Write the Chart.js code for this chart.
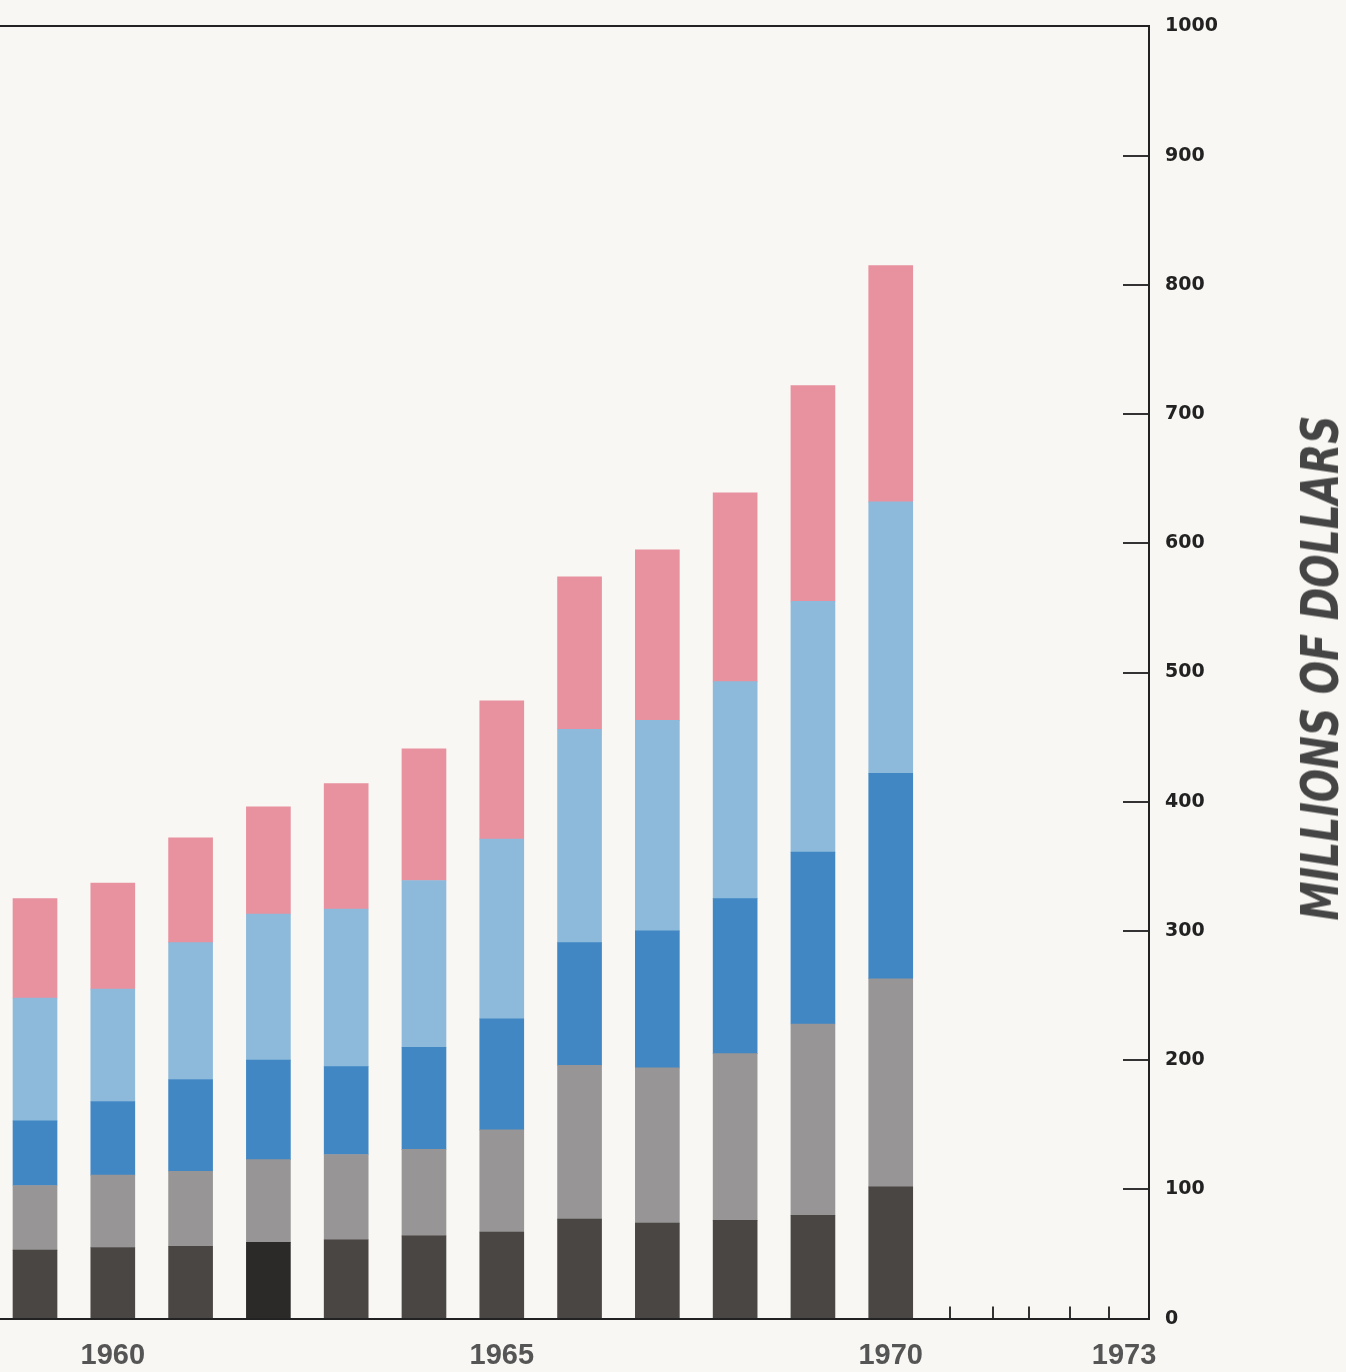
<!DOCTYPE html>
<html>
<head>
<meta charset="utf-8">
<script src="https://cdn.jsdelivr.net/npm/chart.js@4"></script>
<style>
  body { margin: 0; background: #f8f7f3; overflow: hidden; }
  #wrap { position: relative; width: 1346px; height: 1372px; overflow: hidden; }
  #chart { position: absolute; left: 0; top: -27px; }
  #yTitle {
    position: absolute; left: 1320px; top: 668px;
    font-family: "DejaVu Sans Condensed", "DejaVu Sans", sans-serif;
    font-stretch: condensed; font-weight: bold; font-style: italic;
    font-size: 52px; color: #454545; white-space: nowrap;
    transform-origin: center center;
  }
</style>
</head>
<body>
<div id="wrap">
  <canvas id="chart" width="1346" height="1399"></canvas>
  <div id="yTitle">MILLIONS OF DOLLARS</div>
</div>
<script>
// 年份與各段數值（百萬美元，由圖估讀）
const years = [1959, 1960, 1961, 1962, 1963, 1964, 1965, 1966, 1967, 1968, 1969, 1970];
const blackVals = [53, 55, 56, 59, 61, 64, 67, 77, 74, 76, 80, 102];
const grayVals = [50, 56, 58, 64, 66, 67, 79, 119, 120, 129, 148, 161];
const darkBlueVals = [50, 57, 71, 77, 68, 79, 86, 95, 106, 120, 133, 159];
const lightBlueVals = [95, 87, 106, 113, 122, 129, 139, 165, 163, 168, 194, 210];
const pinkVals = [77, 82, 81, 83, 97, 102, 107, 118, 132, 146, 167, 183];

// 軸刻度
const labelYears = [1960, 1965, 1970, 1973];
const minorTicks = [1970.76, 1971.31, 1971.78, 1972.3, 1972.8];
const yTicks = [0, 100, 200, 300, 400, 500, 600, 700, 800, 900, 1000];

function toPoints(vals) {
  return vals.map((v, i) => ({ x: years[i], y: v }));
}

// 1962 年底段印得較深
const blackColors = years.map(y => (y === 1962 ? "#2b2a29" : "#4a4644"));

const ctx = document.getElementById("chart").getContext("2d");
const chart = new Chart(ctx, {
  type: "bar",
  data: {
    datasets: [
      { data: toPoints(blackVals), backgroundColor: blackColors },
      { data: toPoints(grayVals), backgroundColor: "#979595" },
      { data: toPoints(darkBlueVals), backgroundColor: "#4087c4" },
      { data: toPoints(lightBlueVals), backgroundColor: "#8dbadb" },
      { data: toPoints(pinkVals), backgroundColor: "#e8929f" },
    ],
  },
  options: {
    responsive: false,
    animation: false,
    layout: { padding: 0 },
    barThickness: 44,
    plugins: { legend: { display: false }, tooltip: { enabled: false } },
    scales: {
      x: {
        type: "linear",
        position: "bottom",
        stacked: true,
        offset: false,
        min: 1958.55,
        max: 1973.32,
        afterBuildTicks: (scale) => {
          scale.ticks = labelYears.concat(minorTicks).map(v => ({ value: v }));
        },
        afterFit: (scale) => { scale.height = 52; },
        ticks: {
          autoSkip: false,
          maxRotation: 0,
          padding: 32,
          color: "#555",
          font: { family: "Liberation Sans", weight: "bold", size: 29 },
          callback: (v) => (labelYears.includes(v) ? String(v) : ""),
        },
        grid: {
          offset: false,
          drawOnChartArea: false,
          tickLength: -12,
          lineWidth: 2,
          color: (c) => (c.tick && minorTicks.includes(c.tick.value) ? "#333" : "rgba(0,0,0,0)"),
        },
        border: { display: true, color: "#222", width: 2 },
      },
      xTop: {
        type: "linear",
        position: "top",
        offset: false,
        min: 1958.55,
        max: 1973.32,
        afterFit: (scale) => { scale.height = 0; },
        ticks: { display: false },
        grid: { display: false },
        border: { display: true, color: "#222", width: 2 },
      },
      y: {
        position: "right",
        stacked: true,
        min: 0,
        max: 1000,
        afterBuildTicks: (scale) => {
          scale.ticks = yTicks.map(v => ({ value: v }));
        },
        afterFit: (scale) => { scale.width = 197; },
        ticks: {
          padding: 42,
          color: "#222",
          font: { family: "DejaVu Sans", weight: "bold", size: 19 },
          callback: (v) => String(v),
        },
        grid: {
          drawOnChartArea: false,
          tickLength: -26,
          lineWidth: 2,
          color: "#333",
        },
        border: { display: true, color: "#222", width: 2 },
      },
    },
  },
});

// 縱軸標題：由下往上讀
const title = document.getElementById("yTitle");
const s = 505 / title.offsetWidth;
title.style.transform = `translate(-50%, -50%) rotate(-90deg) scaleX(${s})`;
</script>
</body>
</html>
